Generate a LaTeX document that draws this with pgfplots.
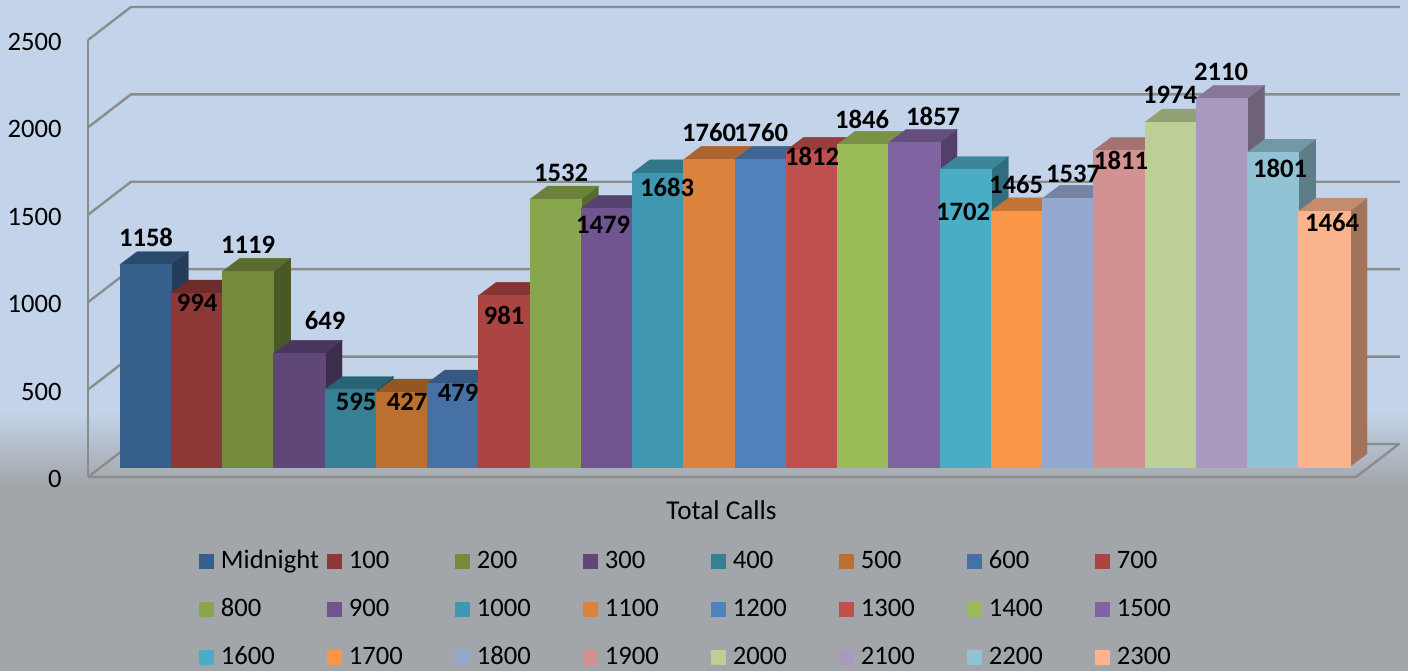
\documentclass[border=0pt]{standalone}
\usepackage{fontspec}
\setmainfont{Carlito}
\usepackage{pgfplots}
\pgfplotsset{compat=1.18}

\definecolor{bgblue}{HTML}{C3D4EA}
\definecolor{bggray}{HTML}{A2A5A9}
\definecolor{wall}{HTML}{8B8C8C}
\definecolor{c0}{HTML}{365F8B}
\definecolor{c1}{HTML}{8D3836}
\definecolor{c2}{HTML}{748A3D}
\definecolor{c3}{HTML}{5F4777}
\definecolor{c4}{HTML}{358095}
\definecolor{c5}{HTML}{BB7030}
\definecolor{c6}{HTML}{4571A5}
\definecolor{c7}{HTML}{AA4543}
\definecolor{c8}{HTML}{89A54D}
\definecolor{c9}{HTML}{705591}
\definecolor{c10}{HTML}{4097B1}
\definecolor{c11}{HTML}{DB823D}
\definecolor{c12}{HTML}{4F81BD}
\definecolor{c13}{HTML}{C0504D}
\definecolor{c14}{HTML}{9BBB59}
\definecolor{c15}{HTML}{8064A2}
\definecolor{c16}{HTML}{4BACC6}
\definecolor{c17}{HTML}{F99647}
\definecolor{c18}{HTML}{95A9D0}
\definecolor{c19}{HTML}{D29291}
\definecolor{c20}{HTML}{BCCF96}
\definecolor{c21}{HTML}{AA99BF}
\definecolor{c22}{HTML}{92C3D5}
\definecolor{c23}{HTML}{FBB48D}

% 1px of the reference = 0.5pt; x axes run in reference pixels
% #1 bar index, #2 height, #3 legend name
\newcommand{\threedbar}[3]{%
  \pgfmathsetmacro{\xa}{119.7+51.25*#1}%
  \pgfmathsetmacro{\xb}{\xa+51.25}%
  \pgfmathsetmacro{\xc}{\xa+17.3}%
  \pgfmathsetmacro{\xd}{\xb+17.3}%
  \pgfmathsetmacro{\vt}{#2+74.5}%
  \edef\temp{\noexpand\addplot[forget plot,fill=c#1!64!black,draw=c#1!64!black,line width=0.2pt]
    coordinates {(\xb,0) (\xd,74.5) (\xd,\vt) (\xb,#2)};
    \noexpand\addplot[forget plot,fill=c#1!78!black,draw=c#1!78!black,line width=0.2pt]
    coordinates {(\xa,#2) (\xb,#2) (\xd,\vt) (\xc,\vt)};
    \noexpand\addplot[fill=c#1,draw=c#1,line width=0.2pt]
    coordinates {(\xa,0) (\xb,0) (\xb,#2) (\xa,#2)};}%
  \temp
  \addlegendentry{\makebox[53pt][l]{\raisebox{-0.8pt}{#3}}}%
}

\begin{document}
\begin{tikzpicture}[x=1pt,y=1pt]
\fill[bgblue] (0,130.5) rectangle (704,335.5);
\shade[top color=bgblue,bottom color=bggray] (0,92) rectangle (704,130.5);
\fill[bggray] (0,0) rectangle (704,92);

% walls and value ticks
\begin{axis}[
    at={(44pt,0pt)}, anchor=south west,
    scale only axis, width=660pt, height=335.5pt,
    xmin=88, xmax=1408,
    ymin=-1109.8, ymax=2728.8,
    clip=false,
    axis x line=none,
    axis y line=left,
    axis line style={draw=none},
    xtick=\empty,
    ytick={0,500,...,2500},
    major tick length=0pt,
    tick label style={font=\fontsize{13.3}{15}\selectfont},
    yticklabel style={inner sep=0pt, anchor=east, xshift=-13pt, yshift=-1pt,
      /pgf/number format/assume math mode=true, /pgf/number format/1000 sep={}},
    wl/.style={draw=wall, line width=1.2pt, line join=round},
]
\addplot[wl] coordinates {(88,2500) (88,0)};
\addplot[wl] coordinates {(88,0) (1356,0) (1399,189) (131,189) (88,0)};
\addplot[wl] coordinates {(88,500) (131,689) (1400,689)};
\addplot[wl] coordinates {(88,1000) (131,1189) (1400,1189)};
\addplot[wl] coordinates {(88,1500) (131,1689) (1400,1689)};
\addplot[wl] coordinates {(88,2000) (131,2189) (1400,2189)};
\addplot[wl] coordinates {(88,2500) (131,2689) (1400,2689)};
\end{axis}

% bars, data labels and legend
\begin{axis}[
    at={(0pt,0pt)}, anchor=south west,
    scale only axis, width=704pt, height=335.5pt,
    xmin=0, xmax=1408,
    ymin=-1170.1, ymax=2672.9,
    hide axis,
    clip=false,
    legend columns=8,
    legend image code/.code={\fill[#1,draw=none] (0pt,-3.75pt) rectangle (7.5pt,3.75pt);},
    legend style={
      at={(axis description cs:0.1413,0.1814)}, anchor=north west,
      draw=none, fill=none, inner sep=0pt, outer sep=0pt,
      font=\fontsize{13.3}{15}\selectfont,
      nodes={inner sep=0pt, text height=9pt, text depth=3pt},
      row sep=12pt,
      /tikz/every even column/.append style={column sep=0pt},
      /tikz/every odd column/.append style={column sep=3.5pt},
    },
]
\threedbar{0}{1158}{Midnight}
\threedbar{1}{994}{100}
\threedbar{2}{1119}{200}
\threedbar{3}{649}{300}
\threedbar{4}{442}{400}
\threedbar{5}{427}{500}
\threedbar{6}{479}{600}
\threedbar{7}{981}{700}
\threedbar{8}{1532}{800}
\threedbar{9}{1479}{900}
\threedbar{10}{1683}{1000}
\threedbar{11}{1760}{1100}
\threedbar{12}{1760}{1200}
\threedbar{13}{1812}{1300}
\threedbar{14}{1846}{1400}
\threedbar{15}{1857}{1500}
\threedbar{16}{1702}{1600}
\threedbar{17}{1465}{1700}
\threedbar{18}{1537}{1800}
\threedbar{19}{1811}{1900}
\threedbar{20}{1974}{2000}
\threedbar{21}{2110}{2100}
\threedbar{22}{1801}{2200}
\threedbar{23}{1464}{2300}

\addplot[forget plot, draw=none, mark=none,
    point meta=explicit symbolic,
    nodes near coords,
    visualization depends on={value \thisrow{dy} \as \labdy},
    every node near coord/.append style={anchor=center, inner sep=0pt,
      yshift=\labdy pt, font=\fontsize{13.3}{15}\selectfont\bfseries},
] table[x=x, y=v, meta=v] {
x    v    dy
146  1158 13.3
197  994  -4.9
248  1119 13.2
325  649  16.2
356  595  -19.6
407  427  -4.9
458  479  -5.0
504  981  -9.8
561  1532 13.1
603  1479 -8.3
667  1683 -7.1
709  1760 13.2
761  1760 13.2
812  1812 -2.8
862  1846 12.7
933  1857 13.2
963  1702 -21.2
1016 1465 13.4
1073 1537 12.1
1121 1811 -5.2
1170 1974 13.5
1221 2110 13.1
1280 1801 -7.9
1332 1464 -5.9
};

\node[font=\fontsize{13.6}{15}\selectfont] at (axis cs:721.5,-247) {Total Calls};
\end{axis}
\end{tikzpicture}
\end{document}
